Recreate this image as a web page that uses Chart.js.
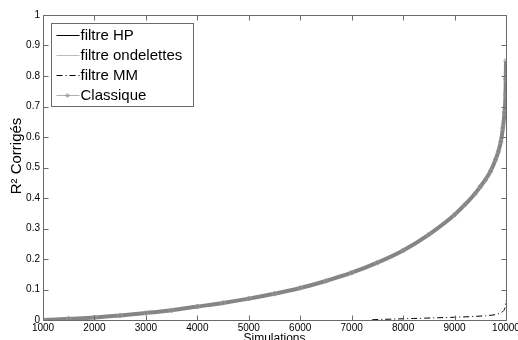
<!DOCTYPE html>
<html>
<head>
<meta charset="utf-8">
<script src="https://cdn.jsdelivr.net/npm/chart.js@4/dist/chart.umd.min.js"></script>
<style>
html, body { margin: 0; padding: 0; background: #fff; }
</style>
</head>
<body>
<canvas id="c" width="518" height="340"></canvas>
<script>
// simulations (sorted R² values)
var simX = [1000, 1500, 2000, 2500, 3000, 3500, 4000, 4500, 5000, 5500, 6000, 6500, 7000, 7500, 8000, 8500,
            9000, 9200, 9400, 9500, 9600, 9700, 9800, 9850, 9900, 9940, 9970, 9990, 10000]
var hpY = [0.000, 0.004, 0.008, 0.015, 0.023, 0.032, 0.044, 0.056, 0.070, 0.086, 0.105, 0.128, 0.155, 0.188, 0.228, 0.280,
           0.345, 0.378, 0.415, 0.437, 0.460, 0.488, 0.527, 0.552, 0.585, 0.620, 0.665, 0.725, 0.830]
var ondY = [0.000, 0.004, 0.008, 0.015, 0.023, 0.032, 0.044, 0.056, 0.070, 0.086, 0.105, 0.128, 0.155, 0.188, 0.228, 0.280,
            0.345, 0.378, 0.415, 0.437, 0.460, 0.488, 0.527, 0.552, 0.585, 0.620, 0.665, 0.725, 0.830]
var classX = [1000, 1500, 2000, 2500, 3000, 3500, 4000, 4500, 5000, 5500, 6000, 6500, 7000, 7500, 8000, 8500,
              9000, 9200, 9400, 9500, 9600, 9700, 9800, 9850, 9900, 9940, 9970, 9990, 9995, 10000]
var classY = [0.000, 0.004, 0.008, 0.015, 0.023, 0.032, 0.044, 0.056, 0.070, 0.086, 0.105, 0.128, 0.155, 0.188, 0.228, 0.280,
              0.345, 0.378, 0.415, 0.437, 0.460, 0.488, 0.527, 0.552, 0.585, 0.630, 0.680, 0.740, 0.790, 0.850]
var mmX = [7400, 7800, 8200, 8600, 9000, 9300, 9600, 9800, 9900, 9950, 9980, 10000]
var mmY = [0.001, 0.003, 0.005, 0.007, 0.009, 0.011, 0.014, 0.018, 0.024, 0.030, 0.040, 0.065]

var labels = ["filtre HP", "filtre ondelettes", "filtre MM", "Classique"]
var xTicks = [1000, 10000, 1000]   // min, max, step
var yTicks = [0, 1, 0.1]

var FONT = "'Liberation Sans', Arial, Helvetica, sans-serif"

function pts(xs, ys) {
  return xs.map((v, i) => ({x: v, y: ys[i]}))
}

var matlabAxes = {
  id: 'matlabAxes',
  afterDatasetsDraw(chart) {
    var ctx = chart.ctx, a = chart.chartArea, xs = chart.scales.x, ys = chart.scales.y
    ctx.save()
    ctx.strokeStyle = '#6a6a6a'
    ctx.lineWidth = 1
    ctx.beginPath()
    var L = Math.round(a.left) + 0.5, R = Math.round(a.right) + 0.5
    var T = Math.round(a.top) + 0.5, B = Math.round(a.bottom) + 0.5
    ctx.rect(L, T, R - L, B - T)
    xs.ticks.forEach(t => {
      var px = Math.round(xs.getPixelForValue(t.value)) + 0.5
      ctx.moveTo(px, B); ctx.lineTo(px, B - 5)
      ctx.moveTo(px, T); ctx.lineTo(px, T + 5)
    })
    ys.ticks.forEach(t => {
      var py = Math.round(ys.getPixelForValue(t.value)) + 0.5
      ctx.moveTo(L, py); ctx.lineTo(L + 5, py)
      ctx.moveTo(R, py); ctx.lineTo(R - 5, py)
    })
    ctx.stroke()

    // axis titles
    ctx.fillStyle = '#000'
    ctx.font = '12px ' + FONT
    ctx.textAlign = 'center'
    ctx.textBaseline = 'top'
    ctx.fillText('Simulations', (a.left + a.right) / 2, a.bottom + 13)
    ctx.font = '15px ' + FONT
    ctx.translate(17, 156)
    ctx.rotate(-Math.PI / 2)
    ctx.textBaseline = 'middle'
    ctx.fillText('R² Corrigés', 0, 0)
    ctx.restore()
  },
  afterDraw(chart) {
    var ctx = chart.ctx, a = chart.chartArea
    var bx = Math.round(a.left) + 8.5, by = Math.round(a.top) + 8.5
    ctx.save()
    ctx.fillStyle = '#fff'
    ctx.strokeStyle = '#6a6a6a'
    ctx.lineWidth = 1
    ctx.fillRect(bx, by, 142, 83)
    ctx.strokeRect(bx, by, 142, 83)
    ctx.font = '15px ' + FONT
    ctx.textBaseline = 'middle'
    ctx.textAlign = 'left'
    chart.data.datasets.forEach((ds, i) => {
      var y = by + 12 + i * 20
      ctx.beginPath()
      ctx.strokeStyle = ds.legendColor
      ctx.setLineDash(ds.borderDash || [])
      ctx.moveTo(bx + 5, y)
      ctx.lineTo(bx + 28, y)
      ctx.stroke()
      ctx.setLineDash([])
      if (ds.legendMarker) {
        ctx.beginPath()
        ctx.strokeStyle = '#8a8a8a'
        ctx.arc(bx + 16, y, 1.5, 0, Math.PI * 2)
        ctx.stroke()
      }
      ctx.fillStyle = '#000'
      ctx.fillText(ds.label, bx + 29, y + 0.5)
    })
    ctx.restore()
  }
}

function fixX(scale) {
  scale.height = 20
  scale.paddingLeft = 0; scale.paddingRight = 0
}
function fixY(scale) {
  scale.width = 43
  scale.paddingTop = 0; scale.paddingBottom = 0
}

new Chart("c", {
  type: "line",
  data: {
    datasets: [{
      label: labels[0],
      data: pts(simX, hpY),
      borderColor: '#000',
      legendColor: '#000',
      borderWidth: 1,
      pointRadius: 0,
      order: 3
    }, {
      label: labels[1],
      data: pts(simX, ondY),
      borderColor: '#bdbdbd',
      legendColor: '#bdbdbd',
      borderWidth: 1,
      pointRadius: 0,
      order: 2
    }, {
      label: labels[2],
      data: pts(mmX, mmY),
      borderColor: '#000',
      legendColor: '#000',
      borderWidth: 1,
      borderDash: [6, 3, 1, 3],
      pointRadius: 0,
      order: 1
    }, {
      label: labels[3],
      data: pts(classX, classY),
      borderColor: '#858585',
      legendColor: '#b0b0b0',
      legendMarker: true,
      borderWidth: 4,
      pointRadius: 2,
      pointBorderWidth: 1,
      pointBorderColor: '#9a9a9a',
      pointBackgroundColor: 'rgba(0,0,0,0)',
      order: 0
    }]
  },
  options: {
    responsive: false,
    animation: false,
    events: [],
    cubicInterpolationMode: 'monotone',
    layout: {padding: {top: 15, right: 12, bottom: 0, left: 0}},
    plugins: {
      legend: {display: false},
      tooltip: {enabled: false},
      title: {display: false}
    },
    scales: {
      x: {
        type: 'linear',
        min: xTicks[0], max: xTicks[1],
        afterFit: fixX,
        grid: {display: false, drawTicks: false},
        border: {display: false},
        ticks: {
          stepSize: xTicks[2],
          autoSkip: false,
          maxRotation: 0,
          padding: 2,
          color: '#000',
          font: {family: FONT, size: 10},
          callback: v => String(v)
        }
      },
      y: {
        min: yTicks[0], max: yTicks[1],
        afterFit: fixY,
        grid: {display: false, drawTicks: false},
        border: {display: false},
        ticks: {
          stepSize: yTicks[2],
          padding: 3,
          color: '#000',
          font: {family: FONT, size: 10},
          callback: v => String(Math.round(v * 10) / 10)
        }
      }
    }
  },
  plugins: [matlabAxes]
});
</script>
</body>
</html>
